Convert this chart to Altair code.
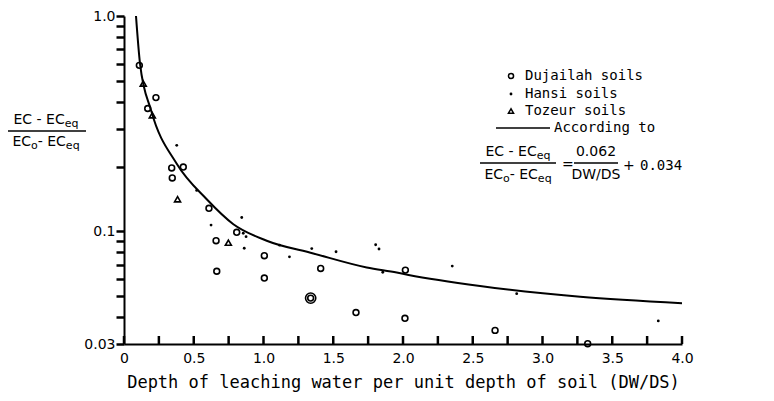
import altair as alt
import pandas as pd

# ---------------- data ----------------
dujailah_x = [0.11, 0.229, 0.17, 0.342, 0.425, 0.346, 0.609, 0.808, 0.66, 1.006, 0.665, 1.006,
              1.41, 1.338, 1.663, 2.017, 2.014, 2.66, 3.324]
dujailah_y = [0.59, 0.418, 0.372, 0.197, 0.199, 0.177, 0.128, 0.099, 0.0905, 0.0771, 0.0653, 0.0607,
              0.0673, 0.049, 0.042, 0.0661, 0.0395, 0.0347, 0.0301]
ring_x = [1.338]
ring_y = [0.049]
hansi_x = [0.378, 0.521, 0.844, 0.624, 0.855, 0.875, 0.862, 1.115, 1.186, 1.346, 1.52, 1.804,
           1.828, 1.855, 2.353, 2.815, 3.83]
hansi_y = [0.251, 0.155, 0.116, 0.107, 0.098, 0.0945, 0.0835, 0.0863, 0.0762, 0.0832, 0.0804, 0.0867,
           0.0828, 0.0646, 0.069, 0.0514, 0.0384]
tozeur_x = [0.138, 0.203, 0.384, 0.748]
tozeur_y = [0.486, 0.346, 0.141, 0.0886]
curve_x = [0.086, 0.115, 0.194, 0.378, 0.593, 0.784, 1.023, 1.357, 1.74, 1.955, 2.04, 2.552, 3.27, 4.0]
curve_y = [1.0, 0.60, 0.365, 0.206, 0.141, 0.108, 0.0905, 0.079, 0.068, 0.0644, 0.0628, 0.0558, 0.0497, 0.0464]
x_ticks = [0, 0.25, 0.5, 0.75, 1.0, 1.25, 1.5, 1.75, 2.0, 2.25, 2.5, 2.75, 3.0, 3.25, 3.5, 3.75, 4.0]
y_ticks = [0.03, 0.04, 0.05, 0.06, 0.07, 0.08, 0.09, 0.1, 0.2, 0.3, 0.4, 0.5, 0.6, 0.7, 0.8, 0.9, 1.0]
legend_labels = ["Dujailah soils", "Hansi soils", "Tozeur soils", "According to"]
x_title = "Depth of leaching water per unit depth of soil (DW/DS)"

# ---------------- layout ----------------
FONT = "DejaVu Sans"
MONO = "DejaVu Sans Mono"
NB = "\u00a0"
W, H = 558, 328
OX, OY = 124, 16  # absolute page position of plot origin

xs = alt.Scale(domain=[0, 4], nice=False, zero=False)
ys = alt.Scale(type="log", domain=[0.03, 1.0], nice=False)
XENC = alt.X("x:Q", scale=xs, axis=alt.Axis(
    values=x_ticks, tickSize=0, labelPadding=7, labelOverlap=False,
    labelExpr="datum.value % 0.5 == 0 ? (datum.value == 0 ? '0' : format(datum.value, '.1f')) : ''",
    title=x_title, titlePadding=9, titleFontSize=17, titleFontWeight="normal", titleFont=MONO,
    labelFont=FONT, labelFontSize=14, labelColor="black", titleColor="black",
    domainColor="black", domainWidth=2, grid=False, labelFlush=False))
YENC = alt.Y("y:Q", scale=ys, axis=alt.Axis(
    values=y_ticks, tickSize=8, tickWidth=2.5, tickColor="black", labelPadding=1, labelOverlap=False,
    labelExpr="datum.value == 0.03 ? '0.03' : datum.value == 0.1 ? '0.1' : datum.value == 1 ? '1.0' : ''",
    title=None, labelFont=FONT, labelFontSize=14, labelColor="black",
    domainColor="black", domainWidth=2, grid=False, labelFlush=False))

def df(xv, yv):
    return pd.DataFrame({"x": xv, "y": yv})

# inward ticks on the x axis
xtick_marks = alt.Chart(pd.DataFrame({"x": x_ticks})).mark_rule(color="black", strokeWidth=2.5).encode(
    x=XENC, y=alt.value(H), y2=alt.value(H - 8))
curve = alt.Chart(df(curve_x, curve_y)).mark_line(color="black", strokeWidth=2, interpolate="monotone").encode(x=XENC, y=YENC)
duj = alt.Chart(df(dujailah_x, dujailah_y)).mark_point(shape="circle", filled=False, color="black", size=34, strokeWidth=1.6, opacity=1).encode(x=XENC, y=YENC)
ring = alt.Chart(df(ring_x, ring_y)).mark_point(shape="circle", filled=False, color="black", size=105, strokeWidth=1.6, opacity=1).encode(x=XENC, y=YENC)
han = alt.Chart(df(hansi_x, hansi_y)).mark_point(shape="circle", filled=True, color="black", size=8, opacity=1).encode(x=XENC, y=YENC)
toz = alt.Chart(df(tozeur_x, tozeur_y)).mark_point(shape="triangle-up", filled=False, color="black", size=36, strokeWidth=1.6, opacity=1).encode(x=XENC, y=YENC)

one = pd.DataFrame({"k": [0]})

def txt(s, X, Y, size=13, align="left", font=FONT):
    return alt.Chart(one).mark_text(text=s, font=font, fontSize=size, align=align, baseline="middle",
                                    color="black").encode(x=alt.value(X - OX), y=alt.value(Y - OY))

def hrule(x1, x2, Y, sw=1.5):
    return alt.Chart(one).mark_rule(color="black", strokeWidth=sw).encode(
        x=alt.value(x1 - OX), x2=alt.value(x2 - OX), y=alt.value(Y - OY))

def sym(shape, X, Y, size, filled):
    return alt.Chart(one).mark_point(shape=shape, filled=filled, color="black", size=size, strokeWidth=1.5,
                                     opacity=1).encode(x=alt.value(X - OX), y=alt.value(Y - OY))

CW = {"E": 1294, "C": 1430, " ": 651, NB: 651, "-": 739, "e": 1260, "q": 1300, "o": 1253, "0": 1303,
      "6": 1303, "2": 1303, ".": 651, "D": 1577, "W": 2025, "S": 1300, "/": 690}

def width(s, size):
    return sum(CW.get(c, 1250) for c in s) / 2048 * size

def rich_centered(segs, CX, Y):
    total = sum(width(s, sz) for s, sz, _ in segs)
    x = CX - total / 2
    out = []
    for s, sz, dy in segs:
        out.append(txt(s, x, Y + dy, sz))
        x += width(s, sz)
    return out

NUM = [("EC" + NB + "-" + NB + "EC", 14, 0), ("eq", 11, 4)]
DEN = [("EC", 14, 0), ("o", 11, 4), ("-" + NB + "EC", 14, 0), ("eq", 11, 4)]

ann = []
# y axis label (fraction)
ann += rich_centered(NUM, 46, 120)
ann.append(hrule(6, 86, 131))
ann += rich_centered(DEN, 46, 142)
# legend
ann.append(sym("circle", 511, 76, 26, False))
ann.append(txt(legend_labels[0], 525, 76, 14, font=MONO))
ann.append(sym("circle", 511, 94, 8, True))
ann.append(txt(legend_labels[1], 525, 94, 14, font=MONO))
ann.append(sym("triangle-up", 511, 111, 26, False))
ann.append(txt(legend_labels[2], 525, 111, 14, font=MONO))
ann.append(hrule(496, 550, 128, 1.6))
ann.append(txt(legend_labels[3], 554, 128, 14, font=MONO))
# equation
ann += rich_centered(NUM, 518, 152)
ann.append(hrule(480, 556, 163))
ann += rich_centered(DEN, 518, 175)
ann.append(txt("=", 562, 165, 14))
ann += rich_centered([("0.062", 14, 0)], 596, 152)
ann.append(hrule(574, 618, 163))
ann += rich_centered([("DW/DS", 14, 0)], 596, 175)
ann.append(txt("+", 623, 166, 14))
ann.append(txt("0.034", 640, 166, 14, font=MONO))

chart = alt.layer(xtick_marks, curve, duj, ring, han, toz, *ann).properties(
    width=W, height=H,
    background="white",
    autosize=alt.AutoSizeParams(type="none"),
    padding={"left": OX - 8, "top": OY - 8, "right": 84, "bottom": 50},
).configure_view(stroke=None)

chart.save("out.html", embed_options={"renderer": "svg", "actions": False})
